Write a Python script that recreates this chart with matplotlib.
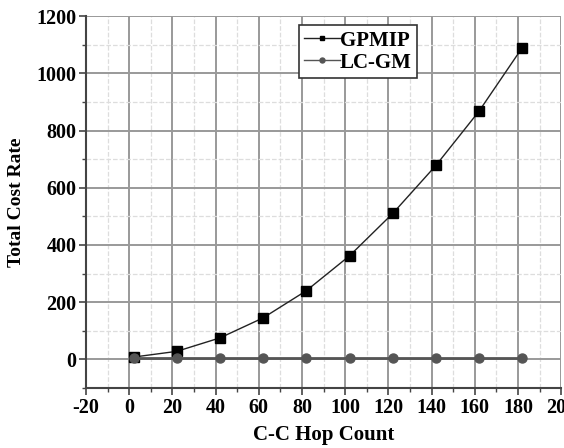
import matplotlib.pyplot as plt
from matplotlib.ticker import MultipleLocator

plt.rcParams['font.family'] = ['Liberation Serif', 'DejaVu Serif']
plt.rcParams['font.weight'] = 'bold'
plt.rcParams['axes.unicode_minus'] = False

# データ
hop_count = [2, 22, 42, 62, 82, 102, 122, 142, 162, 182]
gpmip = [8, 28, 75, 145, 240, 362, 510, 678, 868, 1090]
lcgm = [5, 5, 5, 5, 5, 5, 5, 5, 5, 5]

fig = plt.figure(figsize=(5.64, 4.48), dpi=100)
ax = fig.add_axes([0.1525, 0.134, 0.8425, 0.83])

ax.plot(hop_count, gpmip, color="#222222", linewidth=1.0, marker="s",
        markersize=6.5, markerfacecolor="black", markeredgecolor="black", label="GPMIP")
ax.plot(hop_count, lcgm, color="#555555", linewidth=2.0, marker="o",
        markersize=6.5, markerfacecolor="#555555", markeredgecolor="#555555", label="LC-GM")

ax.set_xlim(-20, 200)
ax.set_ylim(-100, 1200)
ax.xaxis.set_major_locator(MultipleLocator(20))
ax.xaxis.set_minor_locator(MultipleLocator(10))
ax.yaxis.set_major_locator(MultipleLocator(200))
ax.yaxis.set_minor_locator(MultipleLocator(100))

ax.grid(True, which="major", color="#999999", linewidth=1.4, linestyle="-")
ax.grid(True, which="minor", color="#dddddd", linewidth=0.9, linestyle="--")
ax.set_axisbelow(True)

for s in ["top", "right"]:
    ax.spines[s].set_visible(False)
for s in ["left", "bottom"]:
    ax.spines[s].set_color("#444444")
    ax.spines[s].set_linewidth(1.5)

ax.tick_params(which="major", direction="out", length=5, width=1.2, color="#444444",
               labelsize=14.5, pad=2)
ax.tick_params(which="minor", direction="out", length=3, width=1.0, color="#444444")
for lab in ax.get_xticklabels() + ax.get_yticklabels():
    lab.set_fontweight("bold")

ax.set_xlabel("C-C Hop Count", fontsize=15, fontweight="bold", labelpad=5)
ax.set_ylabel("Total Cost Rate", fontsize=14, fontweight="bold", labelpad=8)

leg = ax.legend(loc="upper left", bbox_to_anchor=(0.448, 0.975), fontsize=15,
                handlelength=1.7, handletextpad=0.0, borderpad=0.25,
                labelspacing=0.1, markerscale=0.55, fancybox=False, framealpha=1,
                borderaxespad=0)
leg.get_frame().set_edgecolor("#333333")
leg.get_frame().set_linewidth(1.2)
for t in leg.get_texts():
    t.set_fontweight("bold")
for h in leg.get_lines():
    h.set_linewidth(1.0)

plt.savefig("out.png", dpi=100)
